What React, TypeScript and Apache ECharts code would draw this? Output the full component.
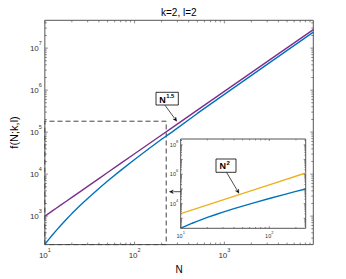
import React, { useEffect, useRef } from "react";
import * as echarts from "echarts";

// ---- data ----
const N_MAIN = [10, 11, 12, 13.5, 15, 17.5, 20, 25, 30, 40, 50, 70, 100, 150, 200, 258, 500, 1000, 3000, 9800];
const PURPLE = [1000, 1152, 1311, 1562, 1826, 2296, 2800, 3898, 5111, 7836, 10920, 17990, 30550, 55790, 85500, 124800, 333400, 933000, 4770000, 27700000];
const BLUE = [214, 276, 346, 465, 600, 855, 1148, 1834, 2640, 4559, 6840, 12280, 22280, 42970, 67800, 99000, 278600, 795000, 4120000, 24000000];
const INSET_COUNT = 16; // inset shows N <= 258
const N_YELLOW = [10, 100, 258];
const YELLOW = [2090, 190000, 1220000];
const ZOOM_X = [10, 225];
const ZOOM_Y = [210, 182000];

const MAIN_X = [10, 9800];
const MAIN_Y = [210, 4.6e7];
const INSET_X = [10, 258];
const INSET_Y = [210, 2.5e8];

const FONT = "'Liberation Sans', Arial, Helvetica, sans-serif";
const AXIS_COLOR = "#555";
const LABEL_COLOR = "#333";
const PURPLE_C = "#7E2F8E";
const BLUE_C = "#0072BD";
const YELLOW_C = "#EDB120";

function ticksFor(min: number, max: number) {
  const out: { v: number; major: boolean }[] = [];
  const e0 = Math.floor(Math.log10(min));
  const e1 = Math.ceil(Math.log10(max));
  for (let e = e0; e <= e1; e++) {
    for (let m = 1; m <= 9; m++) {
      const v = m * Math.pow(10, e);
      if (v >= min * 0.9999 && v <= max * 1.0001) out.push({ v, major: m === 1 });
    }
  }
  return out;
}

function tickSeries(idx: number, xr: number[], yr: number[], majorLen: number, minorLen: number) {
  const data: number[][] = [];
  for (const t of ticksFor(xr[0], xr[1])) data.push([t.v, yr[0], t.major ? 0 : 1]);
  for (const t of ticksFor(yr[0], yr[1])) data.push([xr[0], t.v, t.major ? 2 : 3]);
  return {
    type: "custom",
    xAxisIndex: idx,
    yAxisIndex: idx,
    data,
    clip: false,
    silent: true,
    z: 5,
    encode: { x: 0, y: 1 },
    renderItem: (params: any, api: any) => {
      const cs = params.coordSys;
      const kind = api.value(2);
      const p = api.coord([api.value(0), api.value(1)]);
      const L = kind === 0 || kind === 2 ? majorLen : minorLen;
      const style = { stroke: AXIS_COLOR, lineWidth: 0.7 };
      if (kind < 2) {
        const b = cs.y + cs.height;
        return {
          type: "group",
          children: [
            { type: "line", shape: { x1: p[0], y1: b, x2: p[0], y2: b - L }, style },
            { type: "line", shape: { x1: p[0], y1: cs.y, x2: p[0], y2: cs.y + L }, style },
          ],
        };
      }
      const r = cs.x + cs.width;
      return {
        type: "group",
        children: [
          { type: "line", shape: { x1: cs.x, y1: p[1], x2: cs.x + L, y2: p[1] }, style },
          { type: "line", shape: { x1: r, y1: p[1], x2: r - L, y2: p[1] }, style },
        ],
      };
    },
  };
}

function powLabel(filter?: (e: number) => boolean) {
  return (v: number) => {
    const lg = Math.log10(v);
    const e = Math.round(lg);
    if (Math.abs(lg - e) > 1e-6) return "";
    if (filter && !filter(e)) return "";
    return `{b|10}{s|${e}}`;
  };
}

function arrow(x1: number, y1: number, x2: number, y2: number) {
  const dx = x2 - x1, dy = y2 - y1;
  const len = Math.sqrt(dx * dx + dy * dy);
  const ux = dx / len, uy = dy / len;
  const hl = 4, hw = 1.8;
  const bx = x2 - ux * hl, by = y2 - uy * hl;
  const nx = -uy, ny = ux;
  return [
    { type: "line", shape: { x1, y1, x2: bx, y2: by }, style: { stroke: "#000", lineWidth: 0.7 } },
    {
      type: "polygon",
      shape: { points: [[x2, y2], [bx + nx * hw, by + ny * hw], [bx + ux * 1.0, by + uy * 1.0], [bx - nx * hw, by - ny * hw]] },
      style: { fill: "#000", stroke: "#000", lineWidth: 0.3 },
    },
  ];
}

export default function App() {
  const ref = useRef<HTMLDivElement>(null);
  useEffect(() => {
    if (!ref.current) return;
    const chart = echarts.init(ref.current, undefined, { renderer: "svg" });
    const mainRich = {
      b: { fontSize: 8, lineHeight: 16, fontFamily: FONT, color: LABEL_COLOR },
      s: { fontSize: 5.5, lineHeight: 6, verticalAlign: "top", fontFamily: FONT, color: LABEL_COLOR },
    };
    const insetRich = {
      b: { fontSize: 5.5, lineHeight: 11, fontFamily: FONT, color: LABEL_COLOR },
      s: { fontSize: 4, lineHeight: 4, verticalAlign: "top", fontFamily: FONT, color: LABEL_COLOR },
    };
    const noLines = {
      axisLine: { show: false },
      axisTick: { show: false },
      splitLine: { show: false },
      minorTick: { show: false },
      minorSplitLine: { show: false },
    };
    const txt = (x: number, y: number, text: string, size: number, align: string) => ({
      type: "text", z: 11, x, y,
      style: { text, fontSize: size, fontWeight: "bold", fontFamily: FONT, fill: "#000", align, verticalAlign: "middle", textAlign: align, textVerticalAlign: "middle" },
    });
    const option: any = {
      animation: false,
      backgroundColor: "#fff",
      grid: [
        { left: 44.3, top: 20.3, width: 269, height: 227, show: true, borderColor: AXIS_COLOR, borderWidth: 1, backgroundColor: "transparent" },
        { left: 180.7, top: 139, width: 125, height: 89.3, show: true, borderColor: AXIS_COLOR, borderWidth: 1, backgroundColor: "#fff", z: 3 },
      ],
      xAxis: [
        {
          type: "log", gridIndex: 0, min: MAIN_X[0], max: MAIN_X[1], ...noLines,
          name: "N", nameLocation: "middle", nameGap: 15,
          nameTextStyle: { fontSize: 10, color: "#000", fontFamily: FONT },
          axisLabel: { formatter: powLabel(), rich: mainRich, margin: 2.5 },
        },
        {
          type: "log", gridIndex: 1, min: INSET_X[0], max: INSET_X[1], ...noLines,
          axisLabel: { formatter: powLabel(), rich: insetRich, margin: 2 },
          z: 4,
        },
      ],
      yAxis: [
        {
          type: "log", gridIndex: 0, min: MAIN_Y[0], max: MAIN_Y[1], ...noLines,
          name: "f(N;k,l)", nameLocation: "middle", nameGap: 14,
          nameTextStyle: { fontSize: 11, color: "#000", fontFamily: FONT },
          axisLabel: { formatter: powLabel(), rich: mainRich, margin: 3 },
        },
        {
          type: "log", gridIndex: 1, min: INSET_Y[0], max: INSET_Y[1], ...noLines,
          axisLabel: { formatter: powLabel((e) => e % 2 === 0), rich: insetRich, margin: 2.5 },
          z: 4,
        },
      ],
      graphic: [
        {
          type: "text", x: 178.8, y: 12.5, z: 10,
          style: { text: "k=2, l=2", fontSize: 10, fontFamily: FONT, fill: "#000", align: "center", verticalAlign: "middle", textAlign: "center", textVerticalAlign: "middle" },
        },
        // N^1.5 annotation
        ...arrow(165, 105.3, 176.8, 121.3).map((e) => ({ ...e, z: 10 })),
        { type: "rect", z: 10, shape: { x: 156, y: 92.3, width: 22.3, height: 12.7 }, style: { fill: "#fff", stroke: "#000", lineWidth: 0.8 } },
        txt(162.5, 100.3, "N", 9, "center"),
        txt(166.2, 95.8, "1.5", 5.8, "left"),
        // N^2 annotation (inset)
        ...arrow(226.5, 172.3, 239, 193.3).map((e) => ({ ...e, z: 10 })),
        { type: "rect", z: 10, shape: { x: 216, y: 159, width: 20, height: 13.3 }, style: { fill: "#fff", stroke: "#000", lineWidth: 0.8 } },
        txt(222.7, 166.3, "N", 9, "center"),
        txt(226.6, 162.5, "2", 6, "left"),
        // pointer from inset to zoom box
        ...arrow(180.7, 191.7, 169.3, 191.7).map((e) => ({ ...e, z: 10 })),
      ],
      series: [
        {
          type: "line", xAxisIndex: 0, yAxisIndex: 0, symbol: "none", silent: true, clip: false,
          data: [
            [ZOOM_X[0], ZOOM_Y[0]], [ZOOM_X[0], ZOOM_Y[1]], [ZOOM_X[1], ZOOM_Y[1]], [ZOOM_X[1], ZOOM_Y[0]], [ZOOM_X[0], ZOOM_Y[0]],
          ],
          lineStyle: { color: "#444", width: 1, type: [5, 3] },
          z: 3,
        },
        {
          type: "line", xAxisIndex: 0, yAxisIndex: 0, symbol: "none", silent: true,
          data: N_MAIN.map((n, i) => [n, PURPLE[i]]),
          lineStyle: { color: PURPLE_C, width: 1.4 },
          z: 4,
        },
        {
          type: "line", xAxisIndex: 0, yAxisIndex: 0, symbol: "none", silent: true,
          data: N_MAIN.map((n, i) => [n, BLUE[i]]),
          lineStyle: { color: BLUE_C, width: 1.4 },
          z: 4,
        },
        {
          type: "line", xAxisIndex: 1, yAxisIndex: 1, symbol: "none", silent: true,
          data: N_YELLOW.map((n, i) => [n, YELLOW[i]]),
          lineStyle: { color: YELLOW_C, width: 1.4 },
          z: 6,
        },
        {
          type: "line", xAxisIndex: 1, yAxisIndex: 1, symbol: "none", silent: true,
          data: N_MAIN.slice(0, INSET_COUNT).map((n, i) => [n, BLUE[i]]),
          lineStyle: { color: BLUE_C, width: 1.4 },
          z: 6,
        },
        tickSeries(0, MAIN_X, MAIN_Y, 3, 2),
        { ...tickSeries(1, INSET_X, INSET_Y, 2, 1.3), z: 7 },
      ],
    };
    chart.setOption(option);
    return () => chart.dispose();
  }, []);
  return <div ref={ref} style={{ position: "absolute", left: 0, top: 0, width: 346, height: 279 }} />;
}
